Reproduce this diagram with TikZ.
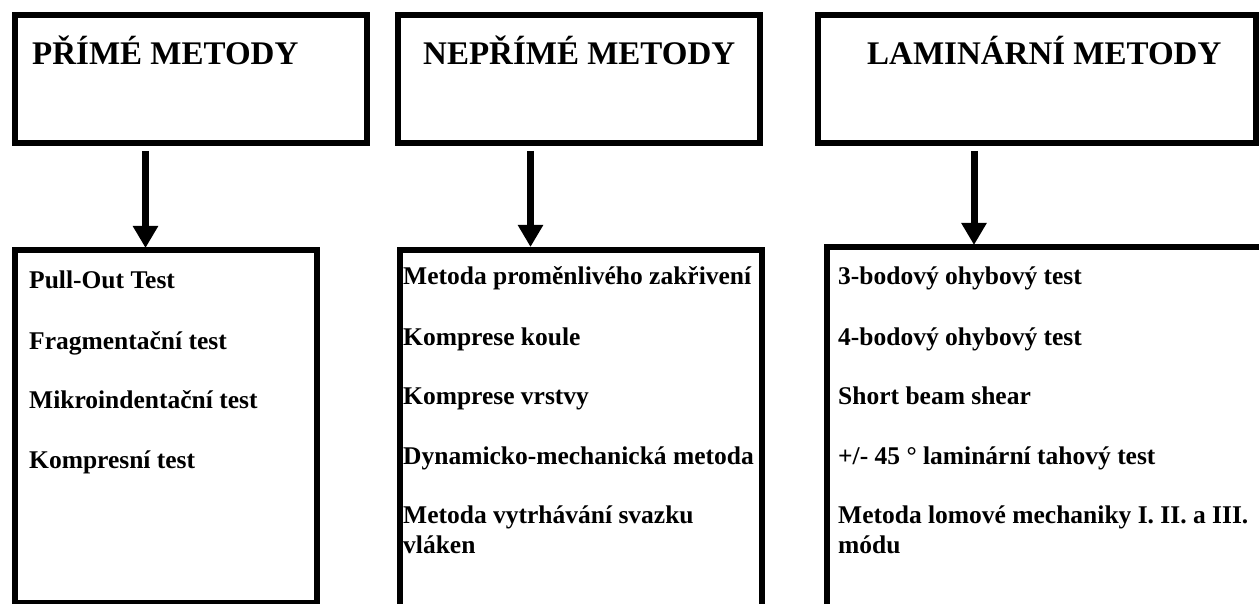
\documentclass[tikz,border=0pt]{standalone}
\usepackage{fontspec}
\setmainfont{Liberation Serif}
\usetikzlibrary{arrows.meta,calc}

\tikzset{
  frame/.style={draw=black, line width=6pt, inner sep=0pt, rectangle},
  heading/.style={anchor=base west, inner sep=0pt, font=\fontsize{33}{36}\selectfont\bfseries},
  item/.style={anchor=base west, inner sep=0pt, font=\fontsize{25.5}{30}\selectfont\bfseries},
  link/.style={line width=7pt, -{Triangle[width=24pt,length=22pt]}}
}

\begin{document}
\begin{tikzpicture}[x=1pt, y=-1pt]
  \clip (0,0) rectangle (1259,604);
  \fill[white] (0,0) rectangle (1259,604);

  % category boxes
  \node[frame, minimum width=352pt, minimum height=128pt] (t1) at (191,79) {};
  \node[frame, minimum width=362pt, minimum height=128pt] (t2) at (579,79) {};
  \node[frame, minimum width=438pt, minimum height=128pt] (t3) at (1037,79) {};

  \node[heading] (h1) at (32,65) {PŘÍMÉ METODY};
  \node[heading] (h2) at (423,65) {NEPŘÍMÉ METODY};
  \node[heading] (h3) at (867,65) {LAMINÁRNÍ METODY};

  % method list boxes
  \node[frame, minimum width=302pt, minimum height=353pt] (b1) at (166,426.5) {};
  \node[frame, minimum width=362pt, minimum height=390pt] (b2) at (581,445) {};
  \node[frame, minimum width=463pt, minimum height=393pt] (b3) at (1058,443.5) {};

  % connectors
  \coordinate (x1) at (145.5,0);
  \coordinate (x2) at (530.5,0);
  \coordinate (x3) at (974,0);
  \draw[link] ($(t1.south -| x1)+(0,5)$) -- ($(b1.north -| x1)+(0,1)$);
  \draw[link] ($(t2.south -| x2)+(0,5)$) -- ($(b2.north -| x2)+(0,0)$);
  \draw[link] ($(t3.south -| x3)+(0,5)$) -- ($(b3.north -| x3)+(0,1)$);

  % direct methods
  \node[item] (p1) at (29,289) {Pull-Out Test};
  \node[item] (p2) at (29,349) {Fragmentační test};
  \node[item] (p3) at (29,408) {Mikroindentační test};
  \node[item] (p4) at (29,468) {Kompresní test};

  % indirect methods
  \node[item] (n1) at (403,285) {Metoda proměnlivého zakřivení};
  \node[item] (n2) at (403,345) {Komprese koule};
  \node[item] (n3) at (403,404) {Komprese vrstvy};
  \node[item] (n4) at (403,464) {Dynamicko-mechanická metoda};
  \node[item] (n5) at (403,523) {\parbox[t]{350pt}{Metoda vytrhávání svazku\\vláken}};

  % laminar methods
  \node[item] (l1) at (838,285) {3-bodový ohybový test};
  \node[item] (l2) at (838,345) {4-bodový ohybový test};
  \node[item] (l3) at (838,404) {Short beam shear};
  \node[item] (l4) at (838,464) {+/- 45 ° laminární tahový test};
  \node[item] (l5) at (838,523) {\parbox[t]{420pt}{Metoda lomové mechaniky I. II. a III.\\módu}};
\end{tikzpicture}
\end{document}
